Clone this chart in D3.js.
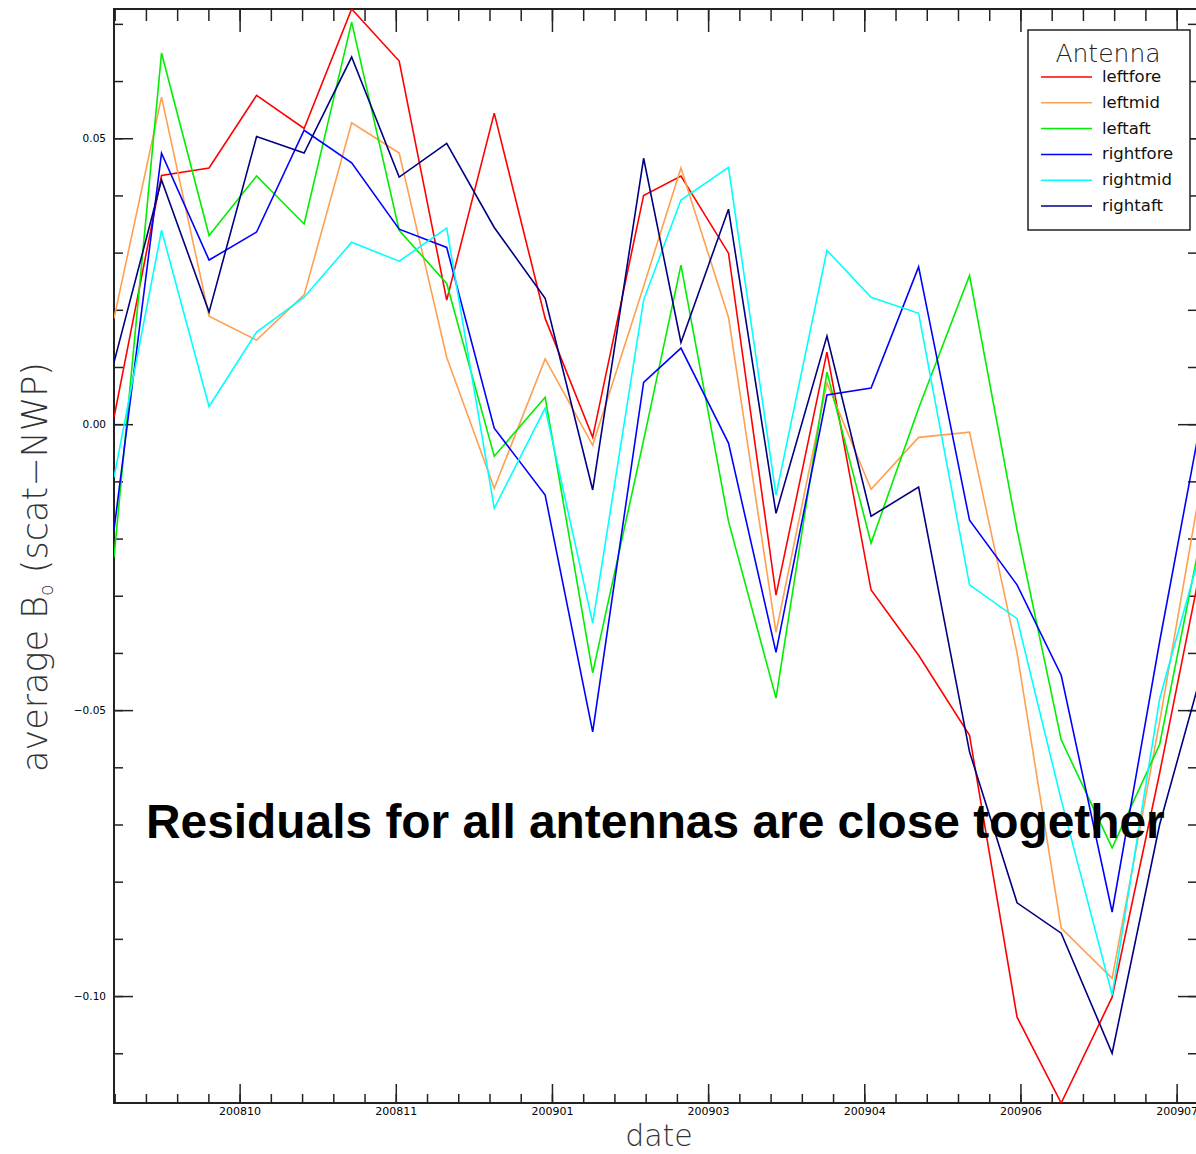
<!DOCTYPE html>
<html>
<head>
<meta charset="utf-8">
<script src="https://cdn.jsdelivr.net/npm/d3@7"></script>
<style>
  body { margin: 0; background: #fff; }
  svg { display: block; }
  text { font-family: "DejaVu Sans", sans-serif; }
</style>
</head>
<body>
<div id="chart"></div>
<script>
const width = 1196;
const height = 1154;

// sample dates (roughly biweekly)
const dates = ["2008-09-07", "2008-09-21", "2008-10-05", "2008-10-19", "2008-11-02", "2008-11-16",
  "2008-11-30", "2008-12-14", "2008-12-28", "2009-01-12", "2009-01-26", "2009-02-10",
  "2009-02-21", "2009-03-07", "2009-03-21", "2009-04-05", "2009-04-18", "2009-05-02",
  "2009-05-17", "2009-05-31", "2009-06-13", "2009-06-28", "2009-07-12", "2009-07-26"];

const antennas = ["leftfore", "leftmid", "leftaft", "rightfore", "rightmid", "rightaft"];
const colors = ["#ff0000", "#ffa050", "#00ee00", "#0000ff", "#00ffff", "#000080"];

const leftfore  = [0.0012, 0.0435, 0.0448, 0.0575, 0.0517, 0.0726, 0.0635, 0.0217, 0.0544, 0.0185, -0.0023, 0.0400,
                   0.0434, 0.0299, -0.0299, 0.0126, -0.0290, -0.0404, -0.0544, -0.1037, -0.1187, -0.1002, -0.0610, -0.0194];
const leftmid   = [0.0185, 0.0572, 0.0189, 0.0147, 0.0226, 0.0527, 0.0474, 0.0117, -0.0112, 0.0114, -0.0037, 0.0241,
                   0.0448, 0.0187, -0.0364, 0.0072, -0.0114, -0.0023, -0.0014, -0.0400, -0.0881, -0.0969, -0.0520, -0.0042];
const leftaft   = [-0.0233, 0.0649, 0.0330, 0.0434, 0.0350, 0.0703, 0.0339, 0.0246, -0.0056, 0.0047, -0.0435, -0.0028,
                   0.0278, -0.0170, -0.0479, 0.0091, -0.0208, 0.0028, 0.0260, -0.0185, -0.0552, -0.0741, -0.0560, -0.0142];
const rightfore = [-0.0185, 0.0474, 0.0287, 0.0336, 0.0514, 0.0457, 0.0341, 0.0309, -0.0007, -0.0124, -0.0538, 0.0073,
                   0.0133, -0.0033, -0.0399, 0.0051, 0.0063, 0.0275, -0.0168, -0.0281, -0.0439, -0.0853, -0.0380, 0.0065];
const rightmid  = [-0.0093, 0.0339, 0.0031, 0.0161, 0.0222, 0.0318, 0.0285, 0.0343, -0.0147, 0.0028, -0.0348, 0.0217,
                   0.0392, 0.0449, -0.0124, 0.0304, 0.0222, 0.0194, -0.0281, -0.0340, -0.0657, -0.0998, -0.0480, -0.0180];
const rightaft  = [0.0108, 0.0427, 0.0196, 0.0503, 0.0474, 0.0642, 0.0432, 0.0491, 0.0344, 0.0220, -0.0115, 0.0465,
                   0.0143, 0.0376, -0.0156, 0.0154, -0.0161, -0.0110, -0.0573, -0.0837, -0.0890, -0.1100, -0.0700, -0.0400];
const seriesValues = [leftfore, leftmid, leftaft, rightfore, rightmid, rightaft];

const majorTickDates = ["2008-10-14", "2008-11-29", "2009-01-14", "2009-03-01", "2009-04-16", "2009-06-01", "2009-07-17"];
const yTickValues = [0.05, 0.00, -0.05, -0.10];

const parse = d3.utcParse("%Y-%m-%d");
const margin = {top: 9, right: -1, bottom: 51, left: 114};

const svg = d3.select("#chart").append("svg")
    .attr("width", width)
    .attr("height", height);

const x = d3.scaleUtc()
    .domain([parse("2008-09-07"), parse("2009-07-23")])
    .range([margin.left, width - margin.right]);

const y = d3.scaleLinear()
    .domain([-0.1187, 0.0726])
    .range([height - margin.bottom, margin.top]);

const x0 = x.range()[0], x1 = x.range()[1];
const y0 = y.range()[0], y1 = y.range()[1];

svg.append("clipPath").attr("id", "plotclip")
  .append("rect")
    .attr("x", x0).attr("y", y1)
    .attr("width", x1 - x0).attr("height", y0 - y1);

// minor ticks every 1/5 of the major spacing (46 days)
const dayMs = 864e5;
const majorDates = majorTickDates.map(parse);
const minorDates = d3.range(-10, 40).map(k => new Date(+majorDates[0] + k * 46 / 5 * dayMs))
    .filter(d => d >= x.domain()[0] && d <= x.domain()[1]);
const yMinor = d3.range(-0.11, 0.075, 0.01).map(v => Math.round(v * 100) / 100);

const axisColor = "#222";

// bottom axis
svg.append("g")
    .attr("transform", `translate(0,${y0})`)
    .call(d3.axisBottom(x).tickValues(minorDates).tickSize(-9).tickFormat(""))
    .call(g => g.select(".domain").remove())
    .call(g => g.selectAll("line").attr("stroke", axisColor).attr("stroke-width", 1.5));
svg.append("g")
    .attr("transform", `translate(0,${y0})`)
    .call(d3.axisBottom(x).tickValues(majorDates).tickSize(-19)
      .tickFormat(d3.utcFormat("%Y%m")))
    .call(g => g.select(".domain").remove())
    .call(g => g.selectAll("line").attr("stroke", axisColor).attr("stroke-width", 1.5))
    .call(g => g.selectAll("text").attr("y", 4).attr("font-size", 11).attr("fill", "#000"));

// top axis
svg.append("g")
    .attr("transform", `translate(0,${y1})`)
    .call(d3.axisTop(x).tickValues(minorDates).tickSize(-12).tickFormat(""))
    .call(g => g.select(".domain").remove())
    .call(g => g.selectAll("line").attr("stroke", axisColor).attr("stroke-width", 1.5));
svg.append("g")
    .attr("transform", `translate(0,${y1})`)
    .call(d3.axisTop(x).tickValues(majorDates).tickSize(-23).tickFormat(""))
    .call(g => g.select(".domain").remove())
    .call(g => g.selectAll("line").attr("stroke", axisColor).attr("stroke-width", 1.5));

// left axis
svg.append("g")
    .attr("transform", `translate(${x0},0)`)
    .call(d3.axisLeft(y).tickValues(yMinor).tickSize(-9).tickFormat(""))
    .call(g => g.select(".domain").remove())
    .call(g => g.selectAll("line").attr("stroke", axisColor).attr("stroke-width", 1.5));
svg.append("g")
    .attr("transform", `translate(${x0},0)`)
    .call(d3.axisLeft(y).tickValues(yTickValues).tickSize(-19).tickFormat(d3.format(".2f")))
    .call(g => g.select(".domain").remove())
    .call(g => g.selectAll("line").attr("stroke", axisColor).attr("stroke-width", 1.5))
    .call(g => g.selectAll("text").attr("x", -8).attr("font-size", 10.5).attr("fill", "#000"));

// right axis
svg.append("g")
    .attr("transform", `translate(${x1},0)`)
    .call(d3.axisRight(y).tickValues(yMinor).tickSize(-9).tickFormat(""))
    .call(g => g.select(".domain").remove())
    .call(g => g.selectAll("line").attr("stroke", axisColor).attr("stroke-width", 1.5));
svg.append("g")
    .attr("transform", `translate(${x1},0)`)
    .call(d3.axisRight(y).tickValues(yTickValues).tickSize(-19).tickFormat(""))
    .call(g => g.select(".domain").remove())
    .call(g => g.selectAll("line").attr("stroke", axisColor).attr("stroke-width", 1.5));

// frame
svg.append("rect")
    .attr("x", x0).attr("y", y1)
    .attr("width", x1 - x0).attr("height", y0 - y1)
    .attr("fill", "none")
    .attr("stroke", axisColor)
    .attr("stroke-width", 2);

// series lines
const line = d3.line()
    .x((d, i) => x(parse(dates[i])))
    .y(d => y(d));

svg.append("g")
    .attr("clip-path", "url(#plotclip)")
  .selectAll("path")
  .data(seriesValues)
  .join("path")
    .attr("d", line)
    .attr("fill", "none")
    .attr("stroke", (d, i) => colors[i])
    .attr("stroke-width", 1.6)
    .attr("stroke-linejoin", "miter");

// legend
const legend = svg.append("g").attr("transform", "translate(1028,30)");
legend.append("rect")
    .attr("width", 162).attr("height", 200)
    .attr("fill", "#fff")
    .attr("stroke", axisColor)
    .attr("stroke-width", 1.5);
legend.append("text")
    .attr("x", 80).attr("y", 32)
    .attr("text-anchor", "middle")
    .attr("font-size", 25)
    .attr("font-weight", 300)
    .attr("fill", "#222")
    .text("Antenna");
const entry = legend.selectAll(".entry")
  .data(antennas)
  .join("g")
    .attr("class", "entry")
    .attr("transform", (d, i) => `translate(0,${47 + i * 25.8})`);
entry.append("line")
    .attr("x1", 13).attr("x2", 64)
    .attr("stroke", (d, i) => colors[i])
    .attr("stroke-width", 1.5);
entry.append("text")
    .attr("x", 74).attr("y", 5)
    .attr("font-size", 16.5)
    .attr("fill", "#111")
    .text(d => d);

// axis titles
svg.append("text")
    .attr("transform", "translate(47,567) rotate(-90)")
    .attr("text-anchor", "middle")
    .attr("font-size", 35)
    .attr("font-weight", 200)
    .attr("fill", "#333")
    .call(t => {
      t.append("tspan").text("average B");
      t.append("tspan").attr("font-size", 19).attr("dy", 6).text("o");
      t.append("tspan").attr("dy", -6).text(" (scat\u2212NWP)");
    });

svg.append("text")
    .attr("x", 659).attr("y", 1146)
    .attr("text-anchor", "middle")
    .attr("font-size", 30)
    .attr("font-weight", 200)
    .attr("fill", "#333")
    .text("date");

// annotation, sized so it spans the same width as in the source
const note = svg.append("text")
    .attr("x", 146).attr("y", 838)
    .style("font-family", "'Liberation Sans', Arial, Helvetica, sans-serif")
    .style("font-weight", "bold")
    .attr("font-size", 42)
    .attr("fill", "#000")
    .text("Residuals for all antennas are close together");
const noteLen = note.node().getComputedTextLength();
note.attr("font-size", 42 * 1019 / noteLen);
</script>
</body>
</html>
